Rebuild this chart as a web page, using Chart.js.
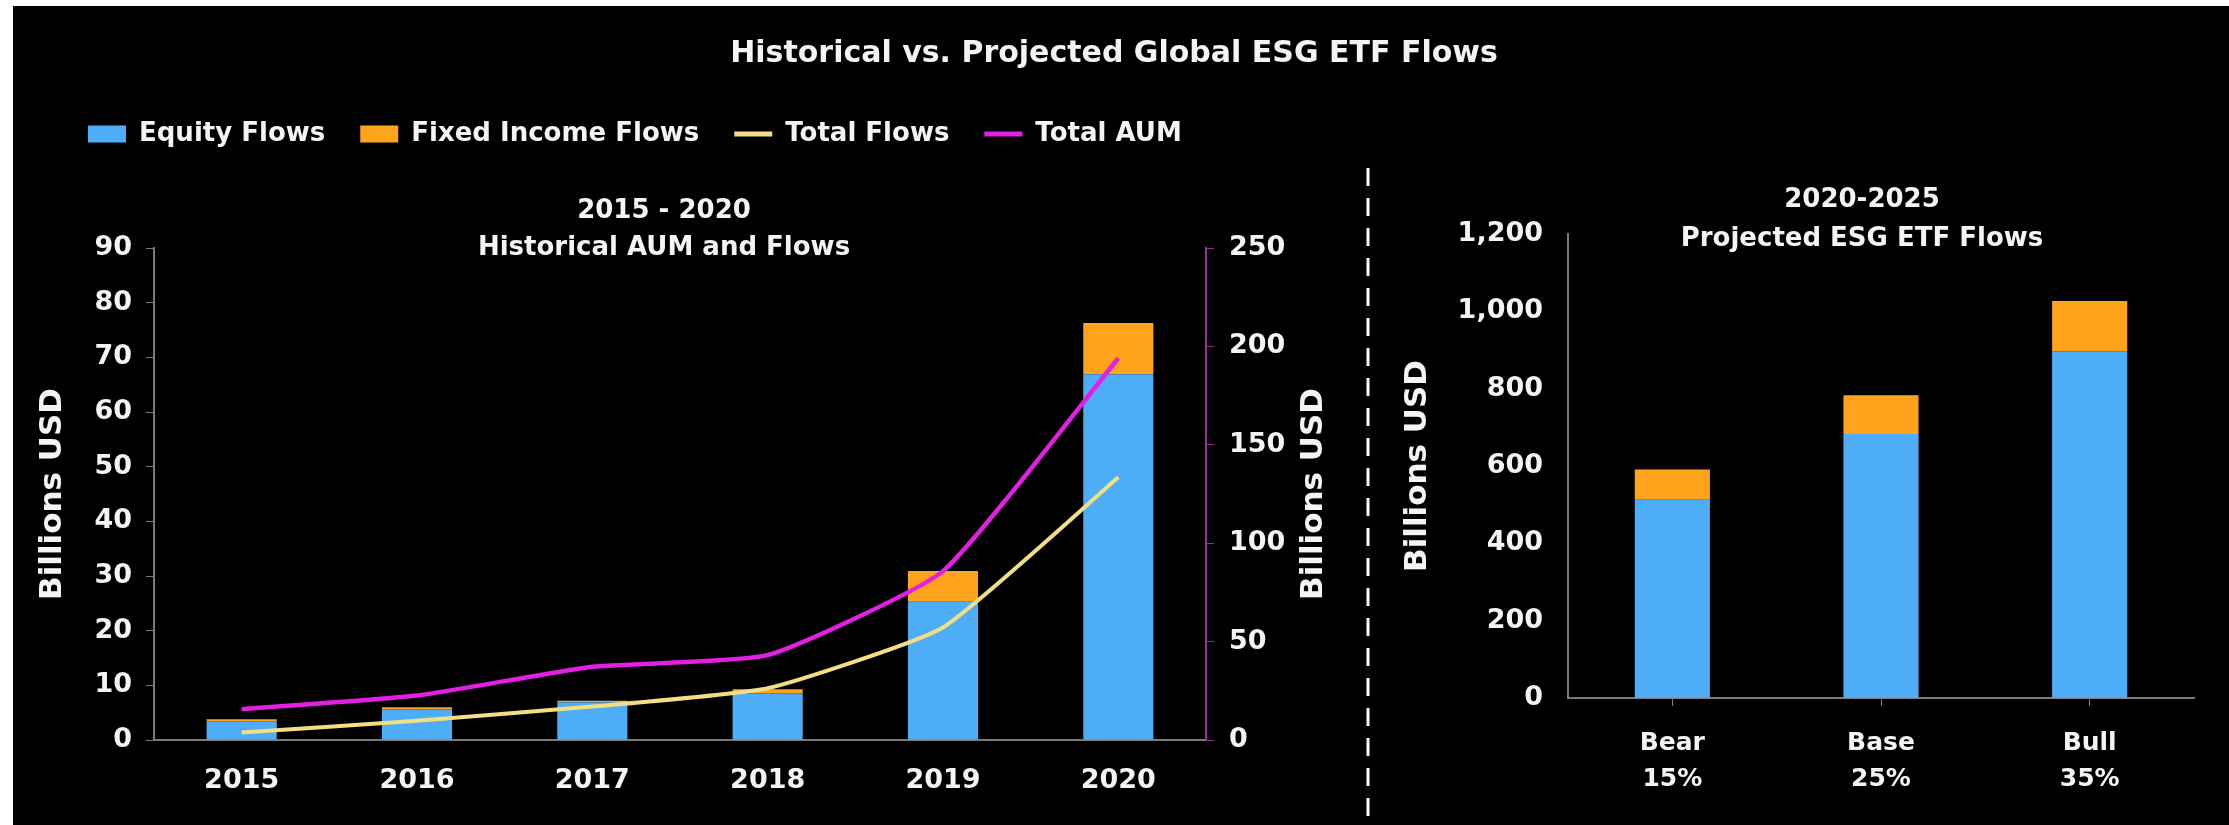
<!DOCTYPE html>
<html>
<head>
<meta charset="utf-8">
<script src="https://cdn.jsdelivr.net/npm/chart.js@4.4.1/dist/chart.umd.min.js"></script>
<style>
  html, body { margin: 0; padding: 0; background: #fff; }
  #frame { position: absolute; left: 13px; top: 6px; width: 2216px; height: 819px; background: #000; }
  #left { position: absolute; left: 0; top: 0; }
  #right { position: absolute; left: 1380px; top: 0; }
</style>
</head>
<body>
<div id="frame"></div>
<canvas id="left" width="2229" height="825"></canvas>
<canvas id="right" width="849" height="825"></canvas>
<script>
// datos historicos 2015 - 2020
const years = ['2015', '2016', '2017', '2018', '2019', '2020'];
const equityFlows = [3.4, 5.6, 6.9, 8.5, 25.3, 66.9];
const fixedIncomeFlows = [0.4, 0.4, 0.3, 0.8, 5.6, 9.4];
const totalFlows = [3.8, 9.8, 17.0, 26.3, 57.2, 133.5];
const totalAUM = [15.7, 22.6, 37.2, 43.1, 85.8, 194];

// proyeccion 2020 - 2025
const scenarios = [['Bear', '15%'], ['Base', '25%'], ['Bull', '35%']];
const projEquity = [513, 683, 897];
const projFixedIncome = [78, 100, 130];

const mainTitle = 'Historical vs. Projected Global ESG ETF Flows';
const leftSubtitle = ['2015 - 2020', 'Historical AUM and Flows'];
const rightSubtitle = ['2020-2025', 'Projected ESG ETF Flows'];
const axisTitle = 'Billions USD';

const BLUE = '#4dadf7';
const ORANGE = '#ffa31c';
const YELLOW = '#f2df85';
const MAGENTA = '#e21fe2';
const AXIS = '#7a7a7a';
const TEXT = '#f4f4f4';
const FONT = "'DejaVu Sans', sans-serif";

Chart.defaults.font.family = FONT;
Chart.defaults.font.weight = 'bold';
Chart.defaults.color = TEXT;

// titulos, linea punteada y ajuste de leyenda
const decorations = {
    id: 'decorations',
    beforeInit(chart) {
        const fit = chart.legend.fit;
        chart.legend.fit = function () {
            fit.call(this);
            this.height += 91;
        };
    },
    afterLayout(chart) {
        chart.legend.left = 88 - chart.legend.options.labels.padding;
    },
    afterDraw(chart) {
        const ctx = chart.ctx;
        ctx.save();
        ctx.fillStyle = TEXT;
        ctx.textAlign = 'center';
        ctx.textBaseline = 'middle';
        ctx.font = `bold 30px ${FONT}`;
        ctx.fillText(mainTitle, 1114, 54);
        ctx.font = `bold 26px ${FONT}`;
        ctx.fillText(leftSubtitle[0], 664, 211);
        ctx.fillText(leftSubtitle[1], 664, 248);

        // titulo del eje derecho
        const y1 = chart.scales.y1;
        ctx.translate(y1.right - 16, (chart.chartArea.top + chart.chartArea.bottom) / 2);
        ctx.rotate(-Math.PI / 2);
        ctx.font = `bold 31px ${FONT}`;
        ctx.fillText(axisTitle, 0, 0);
        ctx.restore();

        ctx.save();
        ctx.strokeStyle = '#ffffff';
        ctx.lineWidth = 3;
        ctx.setLineDash([18, 12]);
        ctx.beginPath();
        ctx.moveTo(1368, 168);
        ctx.lineTo(1368, 825);
        ctx.stroke();
        ctx.restore();
    }
};

new Chart(document.getElementById('left'), {
    type: 'bar',
    data: {
        labels: years,
        datasets: [
            { label: 'Equity Flows', data: equityFlows, backgroundColor: BLUE, yAxisID: 'y', order: 2,
              barPercentage: 0.4, categoryPercentage: 1 },
            { label: 'Fixed Income Flows', data: fixedIncomeFlows, backgroundColor: ORANGE, yAxisID: 'y', order: 2,
              barPercentage: 0.4, categoryPercentage: 1 },
            { type: 'line', label: 'Total Flows', data: totalFlows, borderColor: YELLOW, backgroundColor: YELLOW,
              borderWidth: 4, pointRadius: 0, tension: 0.15, yAxisID: 'y1', order: 1 },
            { type: 'line', label: 'Total AUM', data: totalAUM, borderColor: MAGENTA, backgroundColor: MAGENTA,
              borderWidth: 4.5, pointRadius: 0, tension: 0.15, yAxisID: 'y1', order: 1 }
        ]
    },
    options: {
        responsive: false,
        animation: false,
        devicePixelRatio: 1,
        layout: { padding: { left: 10, right: 899, top: 86, bottom: 0 } },
        plugins: {
            tooltip: { enabled: false },
            legend: {
                position: 'top',
                align: 'start',
                labels: {
                    color: TEXT,
                    font: { size: 26, weight: 'bold' },
                    usePointStyle: true,
                    pointStyleWidth: 38,
                    boxHeight: 17,
                    padding: 35,
                    sort: (a, b) => a.datasetIndex - b.datasetIndex,
                    generateLabels(chart) {
                        const items = Chart.defaults.plugins.legend.labels.generateLabels(chart);
                        items.forEach(it => {
                            const ds = chart.data.datasets[it.datasetIndex];
                            if (ds.type === 'line') {
                                it.pointStyle = 'line';
                                it.lineWidth = 5;
                                it.strokeStyle = ds.borderColor;
                            } else {
                                it.pointStyle = 'rect';
                                it.lineWidth = 0;
                            }
                        });
                        return items;
                    }
                }
            }
        },
        scales: {
            x: {
                stacked: true,
                grid: { display: false, drawTicks: false },
                border: { color: AXIS, width: 2 },
                ticks: { padding: 25, font: { size: 27, weight: 'bold' }, color: TEXT },
                afterFit: s => { s.height = 85; }
            },
            y: {
                stacked: true,
                min: 0, max: 90,
                ticks: { stepSize: 10, padding: 14, font: { size: 27, weight: 'bold' }, color: TEXT },
                grid: { drawOnChartArea: false, tickLength: 8, color: AXIS },
                border: { color: AXIS, width: 2 },
                title: { display: true, text: axisTitle, color: TEXT, font: { size: 31, weight: 'bold' },
                         padding: { top: 24, bottom: 0 } },
                afterFit: s => { s.width = 144; }
            },
            y1: {
                position: 'right',
                min: 0, max: 250,
                ticks: { stepSize: 50, padding: 15, font: { size: 27, weight: 'bold' }, color: TEXT },
                grid: { drawOnChartArea: false, tickLength: 8, color: '#9a2f9a' },
                border: { color: '#9a2f9a', width: 2 },
                afterFit: s => { s.width = 124; }
            }
        }
    },
    plugins: [decorations]
});

const rightTitles = {
    id: 'rightTitles',
    afterDraw(chart) {
        const ctx = chart.ctx;
        ctx.save();
        ctx.fillStyle = TEXT;
        ctx.textAlign = 'center';
        ctx.textBaseline = 'middle';
        ctx.font = `bold 26px ${FONT}`;
        ctx.fillText(rightSubtitle[0], 482, 200);
        ctx.fillText(rightSubtitle[1], 482, 239);
        ctx.restore();
    }
};

new Chart(document.getElementById('right'), {
    type: 'bar',
    data: {
        labels: scenarios,
        datasets: [
            { label: 'Equity Flows', data: projEquity, backgroundColor: BLUE, barPercentage: 0.36, categoryPercentage: 1 },
            { label: 'Fixed Income Flows', data: projFixedIncome, backgroundColor: ORANGE, barPercentage: 0.36, categoryPercentage: 1 }
        ]
    },
    options: {
        responsive: false,
        animation: false,
        devicePixelRatio: 1,
        layout: { padding: { left: 0, right: 35, top: 234, bottom: 0 } },
        plugins: { legend: { display: false }, tooltip: { enabled: false } },
        scales: {
            x: {
                stacked: true,
                grid: { drawOnChartArea: false, offset: false, tickLength: 8, color: AXIS },
                border: { color: AXIS, width: 2 },
                ticks: { padding: 19, font: { size: 25, weight: 'bold', lineHeight: 1.45 }, color: TEXT },
                afterFit: s => { s.height = 127; }
            },
            y: {
                stacked: true,
                min: 0, max: 1200,
                ticks: { stepSize: 200, padding: 25, font: { size: 27, weight: 'bold' }, color: TEXT },
                grid: { display: false, drawTicks: false },
                border: { color: AXIS, width: 2 },
                title: { display: true, text: axisTitle, color: TEXT, font: { size: 31, weight: 'bold' },
                         padding: { top: 19, bottom: 0 } },
                afterFit: s => { s.width = 188; }
            }
        }
    },
    plugins: [rightTitles]
});
</script>
</body>
</html>
